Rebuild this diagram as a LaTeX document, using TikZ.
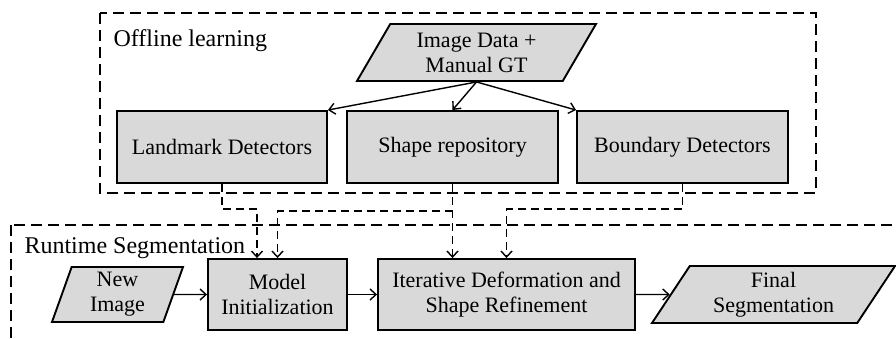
\documentclass[tikz,border=0pt]{standalone}
\usepackage{fontspec}
\setmainfont{Liberation Serif}
\usetikzlibrary{shapes.geometric,arrows.meta}
\newcommand{\boxfont}{\fontsize{22}{25}\selectfont}
\newcommand{\groupfont}{\fontsize{24}{26}\selectfont}
\tikzset{
  procbox/.style={draw, line width=1.9pt, fill=black!15, font=\boxfont, align=center, inner sep=0pt},
  iobox/.style={trapezium, trapezium stretches body, draw, line width=1.9pt, fill=black!15, font=\boxfont, align=center, inner sep=0pt},
  flowarrow/.style={-{Straight Barb[length=6pt,width=11pt]}, line width=1.4pt},
  flowdash/.style={flowarrow, dash pattern=on 8pt off 5pt},
  groupframe/.style={line width=1.7pt, dash pattern=on 11pt off 6pt},
}
\begin{document}
\begin{tikzpicture}[x=1pt, y=-1pt]
  \useasboundingbox (0,0) rectangle (896,338);
  \clip (0,0) rectangle (896,338);
  \draw[groupframe] (100,13) rectangle (816,193);
  \draw[groupframe] (11,225) rectangle (920,360);
  \node[font=\groupfont, anchor=base west] (offline) at (110,46) {Offline learning};
  \node[font=\groupfont, anchor=base west] (runtime) at (21,253) {Runtime Segmentation};
  \node[iobox, trapezium left angle=50, trapezium right angle=130, minimum width=239pt, minimum height=57pt] (data) at (476.5,52.5) {Image Data +\\Manual GT};
  \node[procbox, minimum width=210pt, minimum height=72pt] (land) at (222,147) {Landmark Detectors};
  \node[procbox, minimum width=211pt, minimum height=72pt] (shape) at (452.5,147) {Shape repository};
  \node[procbox, minimum width=211pt, minimum height=72pt] (bound) at (682.5,147) {Boundary Detectors};
  \node[iobox, trapezium left angle=66, trapezium right angle=114, minimum width=131pt, minimum height=55pt] (newimg) at (117.5,294.5) {New\\Image};
  \node[procbox, minimum width=139pt, minimum height=71pt] (model) at (277.5,294.5) {Model\\Initialization};
  \node[procbox, minimum width=257pt, minimum height=71pt] (iter) at (506.5,294.5) {Iterative Deformation and\\Shape Refinement};
  \node[iobox, trapezium left angle=50, trapezium right angle=130, minimum width=243pt, minimum height=57pt] (final) at (773.5,294.5) {Final\\Segmentation};
  \draw[flowarrow] (data.south) -- (land.north east);
  \draw[flowarrow] (data.south) -- (shape.north);
  \draw[flowarrow] (data.south) -- (bound.north west);
  \draw[flowarrow] (newimg) -- (model);
  \draw[flowarrow] (model) -- (iter);
  \draw[flowarrow] (iter) -- (final);
  \draw[flowdash] (land.south) -- ++(0,25) -| ([xshift=-20.5pt]model.north);
  \draw[flowdash] (shape.south) -- (shape.south |- iter.north);
  \draw[flowdash] ([yshift=-27pt]shape.south) -| (model.north);
  \draw[flowdash] (bound.south) -- ++(0,25) -| (iter.north);
\end{tikzpicture}
\end{document}
